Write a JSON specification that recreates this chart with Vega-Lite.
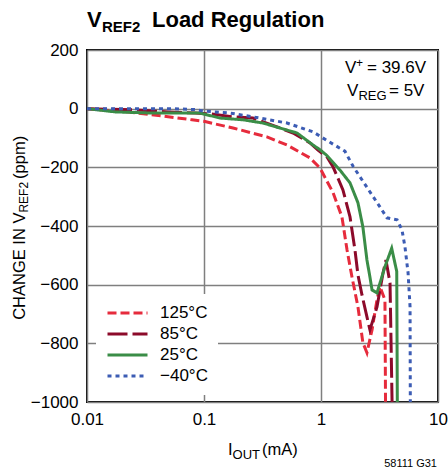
{
  "$schema": "https://vega.github.io/schema/vega-lite/v6.json",
  "width": 351,
  "height": 352,
  "autosize": {"type": "none"},
  "padding": {"left": 87, "top": 50, "right": 10, "bottom": 69},
  "background": "white",
  "config": {
    "font": "Liberation Sans, Arial, sans-serif",
    "view": {"stroke": "black", "strokeWidth": 2},
    "text": {"font": "Liberation Sans, Arial, sans-serif", "color": "black", "baseline": "alphabetic", "align": "left"},
    "axis": {
      "grid": true,
      "gridColor": "#7f7f7f",
      "gridWidth": 1.5,
      "ticks": false,
      "domain": false,
      "labelFontSize": 17,
      "labelColor": "black",
      "labelPadding": 9,
      "labelFlush": false,
      "labelOverlap": false,
      "title": null
    },
    "legend": {
      "orient": "none",
      "legendX": 9,
      "legendY": 244,
      "fillColor": "white",
      "padding": 10,
      "labelFontSize": 17,
      "labelColor": "black",
      "labelOffset": 11,
      "symbolType": "stroke",
      "symbolSize": 1600,
      "symbolStrokeWidth": 3,
      "clipHeight": 18,
      "rowPadding": 3
    }
  },
  "datasets": {
    "curves": [
      {"temp": "125°C", "i": 0.01, "ppm": 0},
      {"temp": "125°C", "i": 0.0224, "ppm": -11},
      {"temp": "125°C", "i": 0.0438, "ppm": -25},
      {"temp": "125°C", "i": 0.0789, "ppm": -38},
      {"temp": "125°C", "i": 0.102, "ppm": -44},
      {"temp": "125°C", "i": 0.177, "ppm": -66},
      {"temp": "125°C", "i": 0.345, "ppm": -96},
      {"temp": "125°C", "i": 0.512, "ppm": -124},
      {"temp": "125°C", "i": 0.805, "ppm": -168},
      {"temp": "125°C", "i": 0.98, "ppm": -202},
      {"temp": "125°C", "i": 1.27, "ppm": -287},
      {"temp": "125°C", "i": 1.51, "ppm": -369},
      {"temp": "125°C", "i": 1.67, "ppm": -482},
      {"temp": "125°C", "i": 1.84, "ppm": -574},
      {"temp": "125°C", "i": 2.07, "ppm": -676},
      {"temp": "125°C", "i": 2.28, "ppm": -798},
      {"temp": "125°C", "i": 2.47, "ppm": -832},
      {"temp": "125°C", "i": 2.73, "ppm": -754},
      {"temp": "125°C", "i": 3.01, "ppm": -652},
      {"temp": "125°C", "i": 3.19, "ppm": -607},
      {"temp": "125°C", "i": 3.52, "ppm": -652},
      {"temp": "125°C", "i": 3.56, "ppm": -1000},
      {"temp": "85°C", "i": 0.01, "ppm": 0},
      {"temp": "85°C", "i": 0.0257, "ppm": -4},
      {"temp": "85°C", "i": 0.0492, "ppm": -11},
      {"temp": "85°C", "i": 0.0838, "ppm": -15},
      {"temp": "85°C", "i": 0.117, "ppm": -18},
      {"temp": "85°C", "i": 0.177, "ppm": -28},
      {"temp": "85°C", "i": 0.262, "ppm": -32},
      {"temp": "85°C", "i": 0.421, "ppm": -62},
      {"temp": "85°C", "i": 0.577, "ppm": -83},
      {"temp": "85°C", "i": 0.805, "ppm": -117},
      {"temp": "85°C", "i": 0.943, "ppm": -141},
      {"temp": "85°C", "i": 1.125, "ppm": -165},
      {"temp": "85°C", "i": 1.27, "ppm": -199},
      {"temp": "85°C", "i": 1.54, "ppm": -277},
      {"temp": "85°C", "i": 1.77, "ppm": -369},
      {"temp": "85°C", "i": 1.95, "ppm": -481},
      {"temp": "85°C", "i": 2.07, "ppm": -567},
      {"temp": "85°C", "i": 2.24, "ppm": -635},
      {"temp": "85°C", "i": 2.47, "ppm": -710},
      {"temp": "85°C", "i": 2.62, "ppm": -754},
      {"temp": "85°C", "i": 3.01, "ppm": -676},
      {"temp": "85°C", "i": 3.39, "ppm": -560},
      {"temp": "85°C", "i": 3.59, "ppm": -516},
      {"temp": "85°C", "i": 3.89, "ppm": -594},
      {"temp": "85°C", "i": 4.05, "ppm": -1000},
      {"temp": "25°C", "i": 0.01, "ppm": 0},
      {"temp": "25°C", "i": 0.0174, "ppm": -11},
      {"temp": "25°C", "i": 0.036, "ppm": -15},
      {"temp": "25°C", "i": 0.0689, "ppm": -15},
      {"temp": "25°C", "i": 0.0925, "ppm": -15},
      {"temp": "25°C", "i": 0.137, "ppm": -32},
      {"temp": "25°C", "i": 0.216, "ppm": -38},
      {"temp": "25°C", "i": 0.319, "ppm": -49},
      {"temp": "25°C", "i": 0.446, "ppm": -66},
      {"temp": "25°C", "i": 0.624, "ppm": -83},
      {"temp": "25°C", "i": 0.855, "ppm": -124},
      {"temp": "25°C", "i": 0.98, "ppm": -140},
      {"temp": "25°C", "i": 1.11, "ppm": -158},
      {"temp": "25°C", "i": 1.45, "ppm": -209},
      {"temp": "25°C", "i": 1.77, "ppm": -253},
      {"temp": "25°C", "i": 2.07, "ppm": -321},
      {"temp": "25°C", "i": 2.28, "ppm": -403},
      {"temp": "25°C", "i": 2.47, "ppm": -516},
      {"temp": "25°C", "i": 2.62, "ppm": -574},
      {"temp": "25°C", "i": 2.73, "ppm": -618},
      {"temp": "25°C", "i": 3.01, "ppm": -628},
      {"temp": "25°C", "i": 3.52, "ppm": -539},
      {"temp": "25°C", "i": 4.02, "ppm": -476},
      {"temp": "25°C", "i": 4.44, "ppm": -555},
      {"temp": "25°C", "i": 4.49, "ppm": -1000},
      {"temp": "−40°C", "i": 0.01, "ppm": 0},
      {"temp": "−40°C", "i": 0.036, "ppm": 0},
      {"temp": "−40°C", "i": 0.0532, "ppm": 0},
      {"temp": "−40°C", "i": 0.0838, "ppm": -3},
      {"temp": "−40°C", "i": 0.098, "ppm": -8},
      {"temp": "−40°C", "i": 0.167, "ppm": -15},
      {"temp": "−40°C", "i": 0.301, "ppm": -32},
      {"temp": "−40°C", "i": 0.512, "ppm": -49},
      {"temp": "−40°C", "i": 0.855, "ppm": -79},
      {"temp": "−40°C", "i": 1.14, "ppm": -110},
      {"temp": "−40°C", "i": 1.6, "ppm": -145},
      {"temp": "−40°C", "i": 1.89, "ppm": -198},
      {"temp": "−40°C", "i": 2.45, "ppm": -266},
      {"temp": "−40°C", "i": 3.19, "ppm": -335},
      {"temp": "−40°C", "i": 3.66, "ppm": -372},
      {"temp": "−40°C", "i": 4.47, "ppm": -379},
      {"temp": "−40°C", "i": 4.92, "ppm": -413},
      {"temp": "−40°C", "i": 5.22, "ppm": -471},
      {"temp": "−40°C", "i": 5.55, "ppm": -560},
      {"temp": "−40°C", "i": 5.77, "ppm": -676},
      {"temp": "−40°C", "i": 5.8, "ppm": -1000}
    ]
  },
  "layer": [
    {
      "data": {"name": "curves"},
      "mark": {"type": "line", "strokeWidth": 3, "clip": true},
      "encoding": {
        "x": {
          "field": "i",
          "type": "quantitative",
          "scale": {"type": "log", "domain": [0.01, 10]},
          "axis": {"values": [0.01, 0.1, 1, 10], "format": "~g"}
        },
        "y": {
          "field": "ppm",
          "type": "quantitative",
          "scale": {"domain": [-1000, 200], "nice": false},
          "axis": {"values": [-1000, -800, -600, -400, -200, 0, 200], "format": "d"}
        },
        "color": {
          "field": "temp",
          "type": "nominal",
          "scale": {"domain": ["125°C", "85°C", "25°C", "−40°C"], "range": ["#e62b3c", "#8c0a2a", "#3a8d47", "#3c5cb4"]},
          "legend": {"title": null}
        },
        "strokeDash": {
          "field": "temp",
          "type": "nominal",
          "scale": {"domain": ["125°C", "85°C", "25°C", "−40°C"], "range": [[9, 4], [20, 5], [1, 0], [4, 4]]},
          "legend": {"title": null}
        }
      }
    },
    {
      "data": {"values": [{}]},
      "mark": {"type": "text", "text": "V", "fontSize": 22, "fontWeight": "bold"},
      "encoding": {"x": {"datum": 0.01, "type": "quantitative"}, "y": {"datum": 278.4, "type": "quantitative"}}
    },
    {
      "data": {"values": [{}]},
      "mark": {"type": "text", "text": "REF2", "fontSize": 15, "fontWeight": "bold"},
      "encoding": {"x": {"datum": 0.01343, "type": "quantitative"}, "y": {"datum": 261.3, "type": "quantitative"}}
    },
    {
      "data": {"values": [{}]},
      "mark": {"type": "text", "text": "Load Regulation", "fontSize": 22, "fontWeight": "bold"},
      "encoding": {"x": {"datum": 0.03594, "type": "quantitative"}, "y": {"datum": 278.4, "type": "quantitative"}}
    },
    {
      "data": {"values": [{}]},
      "mark": {"type": "text", "text": "CHANGE IN V", "fontSize": 16.5, "angle": 270},
      "encoding": {"x": {"datum": 0.002951, "type": "quantitative"}, "y": {"datum": -719.9, "type": "quantitative"}}
    },
    {
      "data": {"values": [{}]},
      "mark": {"type": "text", "text": "REF2", "fontSize": 12, "angle": 270},
      "encoding": {"x": {"datum": 0.003162, "type": "quantitative"}, "y": {"datum": -354.3, "type": "quantitative"}}
    },
    {
      "data": {"values": [{}]},
      "mark": {"type": "text", "text": "(ppm)", "fontSize": 16.5, "angle": 270},
      "encoding": {"x": {"datum": 0.002951, "type": "quantitative"}, "y": {"datum": -239.5, "type": "quantitative"}}
    },
    {
      "data": {"values": [{}]},
      "mark": {"type": "text", "text": "I", "fontSize": 16.5},
      "encoding": {"x": {"datum": 0.1603, "type": "quantitative"}, "y": {"datum": -1179.8, "type": "quantitative"}}
    },
    {
      "data": {"values": [{}]},
      "mark": {"type": "text", "text": "OUT", "fontSize": 13},
      "encoding": {"x": {"datum": 0.1755, "type": "quantitative"}, "y": {"datum": -1193.5, "type": "quantitative"}}
    },
    {
      "data": {"values": [{}]},
      "mark": {"type": "text", "text": "(mA)", "fontSize": 16.5},
      "encoding": {"x": {"datum": 0.3131, "type": "quantitative"}, "y": {"datum": -1179.8, "type": "quantitative"}}
    },
    {
      "data": {"values": [{}]},
      "mark": {"type": "text", "text": "V", "fontSize": 17},
      "encoding": {"x": {"datum": 1.604, "type": "quantitative"}, "y": {"datum": 121.6, "type": "quantitative"}}
    },
    {
      "data": {"values": [{}]},
      "mark": {"type": "text", "text": "+", "fontSize": 12},
      "encoding": {"x": {"datum": 1.991, "type": "quantitative"}, "y": {"datum": 142, "type": "quantitative"}}
    },
    {
      "data": {"values": [{}]},
      "mark": {"type": "text", "text": "= 39.6V", "fontSize": 17},
      "encoding": {"x": {"datum": 2.473, "type": "quantitative"}, "y": {"datum": 121.6, "type": "quantitative"}}
    },
    {
      "data": {"values": [{}]},
      "mark": {"type": "text", "text": "V", "fontSize": 17},
      "encoding": {"x": {"datum": 1.668, "type": "quantitative"}, "y": {"datum": 43.3, "type": "quantitative"}}
    },
    {
      "data": {"values": [{}]},
      "mark": {"type": "text", "text": "REG", "fontSize": 13},
      "encoding": {"x": {"datum": 2.091, "type": "quantitative"}, "y": {"datum": 29.6, "type": "quantitative"}}
    },
    {
      "data": {"values": [{}]},
      "mark": {"type": "text", "text": "= 5V", "fontSize": 17},
      "encoding": {"x": {"datum": 3.813, "type": "quantitative"}, "y": {"datum": 43.3, "type": "quantitative"}}
    },
    {
      "data": {"values": [{}]},
      "mark": {"type": "text", "text": "58111 G31", "fontSize": 11, "align": "right", "dx": -1},
      "encoding": {"x": {"datum": 10, "type": "quantitative"}, "y": {"datum": -1220.7, "type": "quantitative"}}
    }
  ]
}
